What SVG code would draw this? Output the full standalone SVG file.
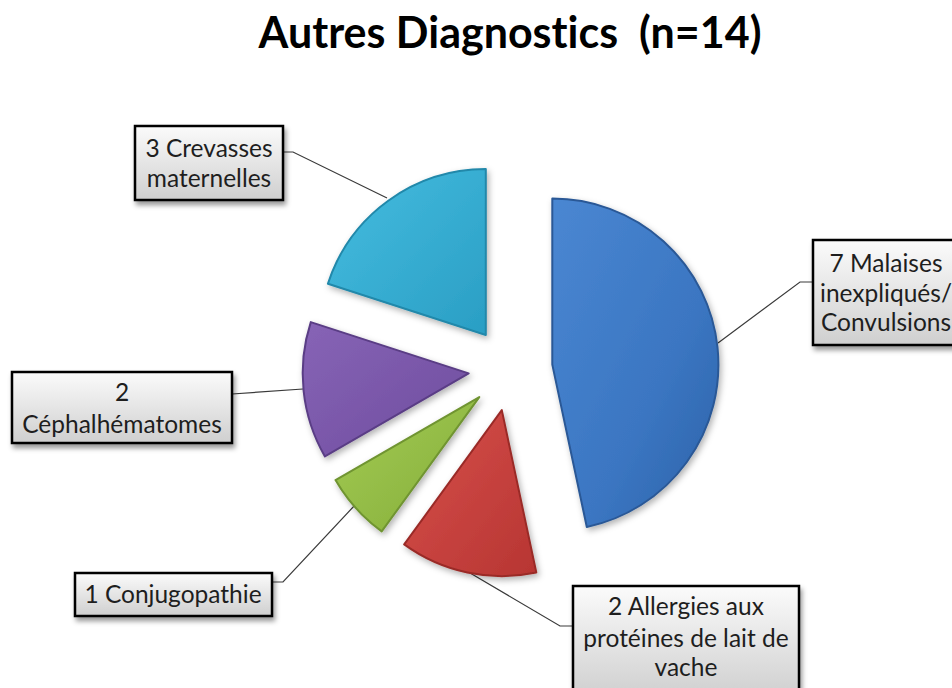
<svg xmlns="http://www.w3.org/2000/svg" width="952" height="688" viewBox="0 0 952 688">
<defs>
<style>
.title{font-family:Lato,"Open Sans","Liberation Sans",sans-serif;font-weight:bold;font-size:43px;fill:#000;white-space:pre;font-variant-ligatures:none}
.lbl{font-family:Lato,"Open Sans","Liberation Sans",sans-serif;font-size:24.5px;fill:#1e1e1e;text-anchor:middle;font-variant-ligatures:none}
.box{fill:url(#boxg);stroke:#000;stroke-width:2.5;filter:url(#bsh)}
.lead{fill:none;stroke:#3a3a3a;stroke-width:1.2}
.slice{filter:url(#ssh);stroke-width:2;stroke-linejoin:round}
</style>
<linearGradient id="boxg" x1="0" y1="0" x2="0" y2="1">
<stop offset="0" stop-color="#fbfbfb"/><stop offset="1" stop-color="#cfcfcf"/>
</linearGradient>
<linearGradient id="gBlue" x1="0" y1="0" x2="1" y2="1">
<stop offset="0" stop-color="#4a87d2"/><stop offset="0.6" stop-color="#3b76c2"/><stop offset="1" stop-color="#2c62a8"/>
</linearGradient>
<linearGradient id="gRed" x1="0" y1="0" x2="1" y2="1">
<stop offset="0" stop-color="#d7504c"/><stop offset="1" stop-color="#b73532"/>
</linearGradient>
<linearGradient id="gGreen" x1="0" y1="0" x2="1" y2="1">
<stop offset="0" stop-color="#a4cc55"/><stop offset="1" stop-color="#84ad38"/>
</linearGradient>
<linearGradient id="gPurple" x1="0" y1="0" x2="1" y2="1">
<stop offset="0" stop-color="#8764b6"/><stop offset="1" stop-color="#6e4c9e"/>
</linearGradient>
<linearGradient id="gCyan" x1="0" y1="0" x2="1" y2="1">
<stop offset="0" stop-color="#45bde0"/><stop offset="1" stop-color="#2a9ec4"/>
</linearGradient>
<filter id="bsh" x="-10%" y="-10%" width="125%" height="135%">
<feDropShadow dx="2" dy="4" stdDeviation="2.5" flood-color="#000" flood-opacity="0.4"/>
</filter>
<filter id="ssh" x="-10%" y="-10%" width="125%" height="125%">
<feDropShadow dx="2" dy="3" stdDeviation="3" flood-color="#000" flood-opacity="0.3"/>
</filter>
</defs>
<rect width="952" height="688" fill="#fff"/>
<text class="title" x="510" y="48" text-anchor="middle">Autres Diagnostics  (n=14)</text>

<g id="connectors">
<path class="lead" d="M283,152 L293,152 L387,198"/>
<path class="lead" d="M813,282 L800,282 L718,343"/>
<path class="lead" d="M232,394 L303,389"/>
<path class="lead" d="M272,582 L283,582 L355,505"/>
<path class="lead" d="M573,626 L560,626 L465,570"/>
</g>

<g id="slice-blue"><path class="slice" fill="url(#gBlue)" stroke="#2a5896" d="M552.3,364.6 L552.3,198.6 A166,166 0 0 1 586.8,527 Z"/></g>
<g id="slice-red"><path class="slice" fill="url(#gRed)" stroke="#9a2b28" d="M501.8,410.1 L536.3,572.5 A166,166 0 0 1 404.2,544.4 Z"/></g>
<g id="slice-green"><path class="slice" fill="url(#gGreen)" stroke="#6f9430" d="M479.3,397.1 L381.7,531.4 A166,166 0 0 1 335.5,480.1 Z"/></g>
<g id="slice-purple"><path class="slice" fill="url(#gPurple)" stroke="#5a3d85" d="M468.7,373.4 L324.9,456.4 A166,166 0 0 1 310.8,322.1 Z"/></g>
<g id="slice-cyan"><path class="slice" fill="url(#gCyan)" stroke="#2088aa" d="M485.8,335 L327.9,283.7 A166,166 0 0 1 485.8,169 Z"/></g>

<g id="label-crevasses">
<rect class="box" x="135" y="126" width="148" height="74"/>
<text class="lbl" x="209" y="157">3 Crevasses</text>
<text class="lbl" x="209" y="187">maternelles</text>
</g>
<g id="label-malaises">
<rect class="box" x="813" y="240" width="150" height="105"/>
<text class="lbl" x="886" y="272">7 Malaises</text>
<text class="lbl" x="886" y="302">inexpliqués/</text>
<text class="lbl" x="886" y="331">Convulsions</text>
</g>
<g id="label-cephal">
<rect class="box" x="12" y="372" width="220" height="71"/>
<text class="lbl" x="122" y="401">2</text>
<text class="lbl" x="122" y="433">Céphalhématomes</text>
</g>
<g id="label-conjugo">
<rect class="box" x="75" y="573" width="197" height="43"/>
<text class="lbl" x="173" y="603">1 Conjugopathie</text>
</g>
<g id="label-allergies">
<rect class="box" x="573" y="586" width="226" height="112"/>
<text class="lbl" x="686" y="615">2 Allergies aux</text>
<text class="lbl" x="686" y="647">protéines de lait de</text>
<text class="lbl" x="686" y="676">vache</text>
</g>
</svg>
